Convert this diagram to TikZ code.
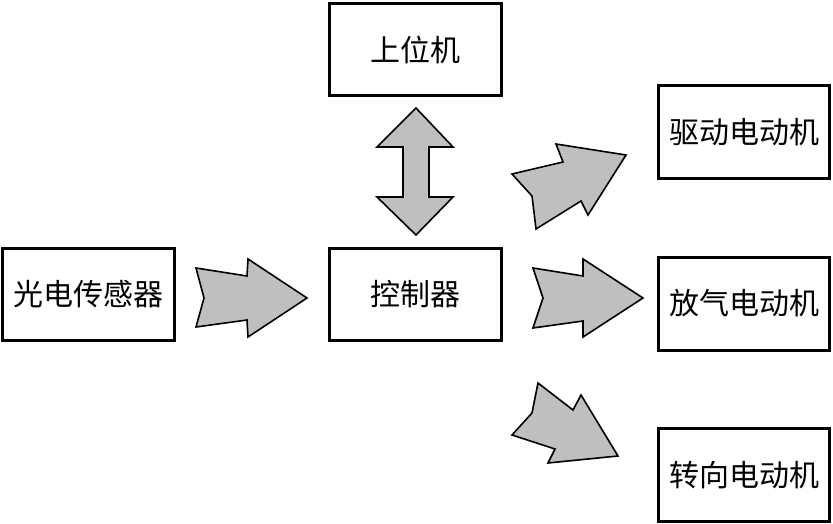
\documentclass[tikz,border=0pt]{standalone}
\usepackage{fontspec}
\newfontfamily\cjk{Noto Sans CJK SC}
\tikzset{
  box/.style={draw=black, line width=3pt, fill=white, inner sep=0pt,
    minimum width=172pt, minimum height=92pt,
    font=\cjk\fontsize{30}{30}\selectfont},
  blockarrow/.style={draw=black, line width=1.6pt, fill=black!25, line join=miter}
}
\begin{document}
\begin{tikzpicture}[x=1pt,y=-1pt]
\useasboundingbox (0,0) rectangle (833,524);
% boxes
\node[box] (up) at (415.5,49.5) {上位机};
\node[box] (sensor) at (88.5,294.5) {光电传感器};
\node[box] (ctrl) at (415.5,294.5) {控制器};
\node[box, minimum width=171pt, minimum height=93pt] (drive) at (744,132) {驱动电动机};
\node[box, minimum width=171pt, minimum height=93pt] (vent) at (744,303.5) {放气电动机};
\node[box, minimum width=171pt, minimum height=93pt] (steer) at (744,475) {转向电动机};
% sensor -> controller
\draw[blockarrow] (196,268) -- (204,298) -- (196,327) -- (247,320) -- (248,337)
  -- (307,298) -- (248,259) -- (247,276) -- cycle;
% controller <-> host
\draw[blockarrow] (416,108) -- (453,147) -- (429,147) -- (429,197) -- (453,197)
  -- (416,235) -- (377,197) -- (403,197) -- (403,147) -- (377,147) -- cycle;
% controller -> drive motor
\draw[blockarrow] (512,174) -- (532,196) -- (536,229) -- (581,201) -- (588,215)
  -- (626,155) -- (556,144) -- (563,162) -- cycle;
% controller -> vent motor
\draw[blockarrow] (533,268) -- (543,298) -- (533,328) -- (583,321) -- (583,337)
  -- (643,298) -- (583,259) -- (583,276) -- cycle;
% controller -> steering motor
\draw[blockarrow] (538,383) -- (532,413) -- (512,435) -- (555,449) -- (548,463)
  -- (618,456) -- (581,395) -- (573,410) -- cycle;
\end{tikzpicture}
\end{document}
